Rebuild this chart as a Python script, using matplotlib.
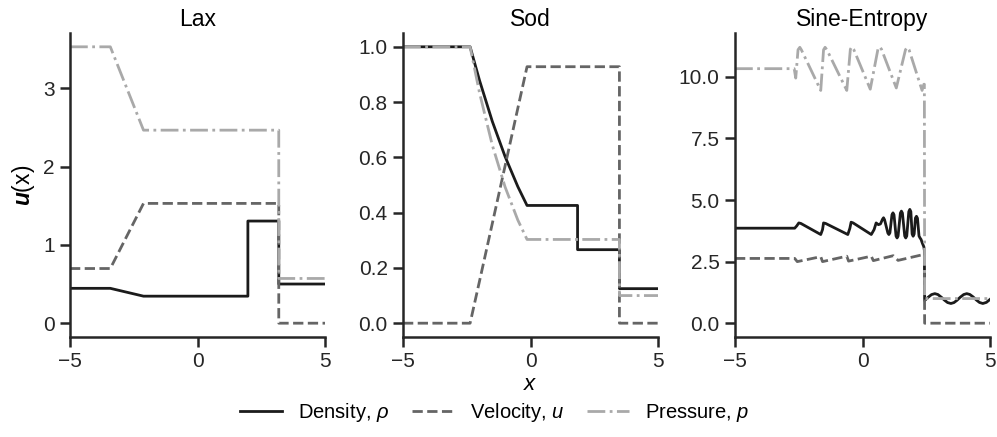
#!/usr/bin/env python3
"""
Three 1D Euler Riemann-type solutions (Lax, Sod, Sine-Entropy):
density, velocity and pressure profiles.
"""

import matplotlib
matplotlib.use("Agg")
import matplotlib.pyplot as plt

# ── Data ──────────────────────────────────────────────────────────────────────
lax_x   = [-5, -3.42, -2.12, 1.97, 1.97, 3.18, 3.18, 5]
lax_rho = [0.445, 0.445, 0.345, 0.345, 1.304, 1.304, 0.5, 0.5]
lax_u   = [0.698, 0.698, 1.529, 1.529, 1.529, 1.529, 0.0, 0.0]
lax_p   = [3.528, 3.528, 2.464, 2.464, 2.464, 2.464, 0.571, 0.571]

sod_x   = [-5, -2.37, -2.0, -1.5, -1.0, -0.5, -0.14, 1.84, 1.84, 3.48, 3.48, 5]
sod_rho = [1.0, 1.0, 0.878, 0.730, 0.603, 0.494, 0.426, 0.426, 0.266, 0.266, 0.125, 0.125]
sod_u   = [0.0, 0.0, 0.153, 0.361, 0.569, 0.778, 0.928, 0.928, 0.928, 0.928, 0.0, 0.0]
sod_p   = [1.0, 1.0, 0.833, 0.644, 0.493, 0.373, 0.303, 0.303, 0.303, 0.303, 0.1, 0.1]

se_rho_x = [-5, -2.66, -2.58, -2.50, -2.42, -1.64, -1.57, -1.53, -1.45, -0.58, -0.50,
            -0.45, -0.37, 0.34, 0.45, 0.53, 0.62, 0.70,
            0.78, 0.82, 0.86, 0.99, 1.03, 1.07, 1.15, 1.19, 1.23, 1.31, 1.35, 1.39,
            1.48, 1.52, 1.56, 1.65, 1.69, 1.73, 1.81, 1.85, 1.89, 1.94, 1.98, 2.02,
            2.07, 2.11, 2.15, 2.21, 2.25, 2.29, 2.34, 2.40, 2.42, 2.43,
            2.55, 2.70, 2.83, 2.95, 3.10, 3.20, 3.33, 3.46, 3.58, 3.70, 3.83, 3.96,
            4.08, 4.20, 4.33, 4.46, 4.58, 4.71, 4.85, 5.0]
se_rho   = [3.857, 3.857, 3.95, 4.07, 4.05, 3.60, 3.80, 4.07, 4.05, 3.60, 3.85,
            4.10, 4.07, 3.60, 3.80, 4.07, 4.00, 4.03,
            4.22, 4.28, 4.20, 3.66, 3.60, 3.67, 4.40, 4.48, 4.40, 3.54, 3.46, 3.54,
            4.47, 4.55, 4.47, 3.54, 3.46, 3.54, 4.53, 4.62, 4.53, 3.62, 3.53, 3.62,
            4.27, 4.34, 4.26, 3.54, 3.46, 3.40, 3.25, 3.10, 2.95, 0.92,
            1.037, 1.161, 1.20, 1.164, 1.041, 0.942, 0.838, 0.80, 0.837, 0.931, 1.059, 1.163,
            1.20, 1.167, 1.067, 0.939, 0.842, 0.80, 0.845, 0.974]

se_u_x = [-5, -2.66, -2.56, -1.64, -1.57, -0.62, -0.55, 0.34, 0.42, 1.20, 1.39, 2.35, 2.42,
          2.43, 5]
se_u   = [2.629, 2.629, 2.50, 2.70, 2.50, 2.72, 2.52, 2.72, 2.54, 2.74, 2.55, 2.78, 2.78,
          0.0, 0.0]

se_p_x = [-5, -2.68, -2.62, -2.53, -2.46, -2.40, -1.64, -1.53, -1.47, -1.40, -0.62,
          -0.48, -0.42, -0.35, 0.30, 0.60, 0.67, 0.74, 1.32, 1.68, 1.75, 1.82, 2.33,
          2.40, 2.42, 2.43, 5]
se_p   = [10.333, 10.333, 9.95, 11.1, 11.2, 11.1, 9.45, 11.1, 11.2, 11.1, 9.45,
          11.12, 11.22, 11.12, 9.50, 11.12, 11.22, 11.12, 9.55, 11.1, 11.2, 11.1, 9.45,
          9.70, 9.70, 1.0, 1.0]

titles   = ["Lax", "Sod", "Sine-Entropy"]
yticks   = [[0, 1, 2, 3],
            [0.0, 0.2, 0.4, 0.6, 0.8, 1.0],
            [0.0, 2.5, 5.0, 7.5, 10.0]]
labels   = [r"Density, $\rho$", r"Velocity, $u$", r"Pressure, $p$"]

COLORS = ["#1b1b1b", "#656565", "#a9a9a9"]
STYLES = ["-", "--", "-."]

# ── Style ─────────────────────────────────────────────────────────────────────
plt.rcParams.update({
    "font.family": ["Liberation Sans", "DejaVu Sans"],
    "font.size": 15,
    "mathtext.fontset": "custom",
    "mathtext.rm": "Liberation Sans",
    "mathtext.it": "Liberation Sans:italic",
    "mathtext.bf": "Liberation Sans:bold",
    "mathtext.bfit": "Liberation Sans:bold:italic",
    "axes.linewidth": 1.8,
    "axes.edgecolor": "#262626",
    "xtick.major.size": 7.5,
    "ytick.major.size": 7.5,
    "xtick.major.width": 1.8,
    "ytick.major.width": 1.8,
    "xtick.color": "#262626",
    "ytick.color": "#262626",
    "axes.spines.top": False,
    "axes.spines.right": False,
})

fig = plt.figure(figsize=(9.97, 4.37), dpi=100)
lefts = [0.0702, 0.4042, 0.7372]
axes = [fig.add_axes([l, 0.2288, 0.2560, 0.6957]) for l in lefts]

panels = [
    [(lax_x, lax_rho), (lax_x, lax_u), (lax_x, lax_p)],
    [(sod_x, sod_rho), (sod_x, sod_u), (sod_x, sod_p)],
    [(se_rho_x, se_rho), (se_u_x, se_u), (se_p_x, se_p)],
]

handles = []
for i, ax in enumerate(axes):
    for j, (xs, ys) in enumerate(panels[i]):
        ln, = ax.plot(xs, ys, color=COLORS[j], ls=STYLES[j], lw=2.0)
        if i == 0:
            handles.append(ln)
    ax.set_xlim(-5, 5)
    ax.set_xticks([-5, 0, 5])
    ax.set_yticks(yticks[i])
    ax.set_title(titles[i], fontsize=16.5, pad=5)

axes[0].set_ylabel(r"$\boldsymbol{u}$(x)", fontsize=16.5)
axes[1].set_xlabel(r"$x$", labelpad=2, fontsize=16)

fig.legend(handles, labels, loc="center", bbox_to_anchor=(0.496, 0.055), ncol=3,
           frameon=False, handlelength=2.1, handletextpad=0.8, columnspacing=1.1,
           fontsize=14.5)

plt.savefig("out.png", dpi=100)
plt.close()
